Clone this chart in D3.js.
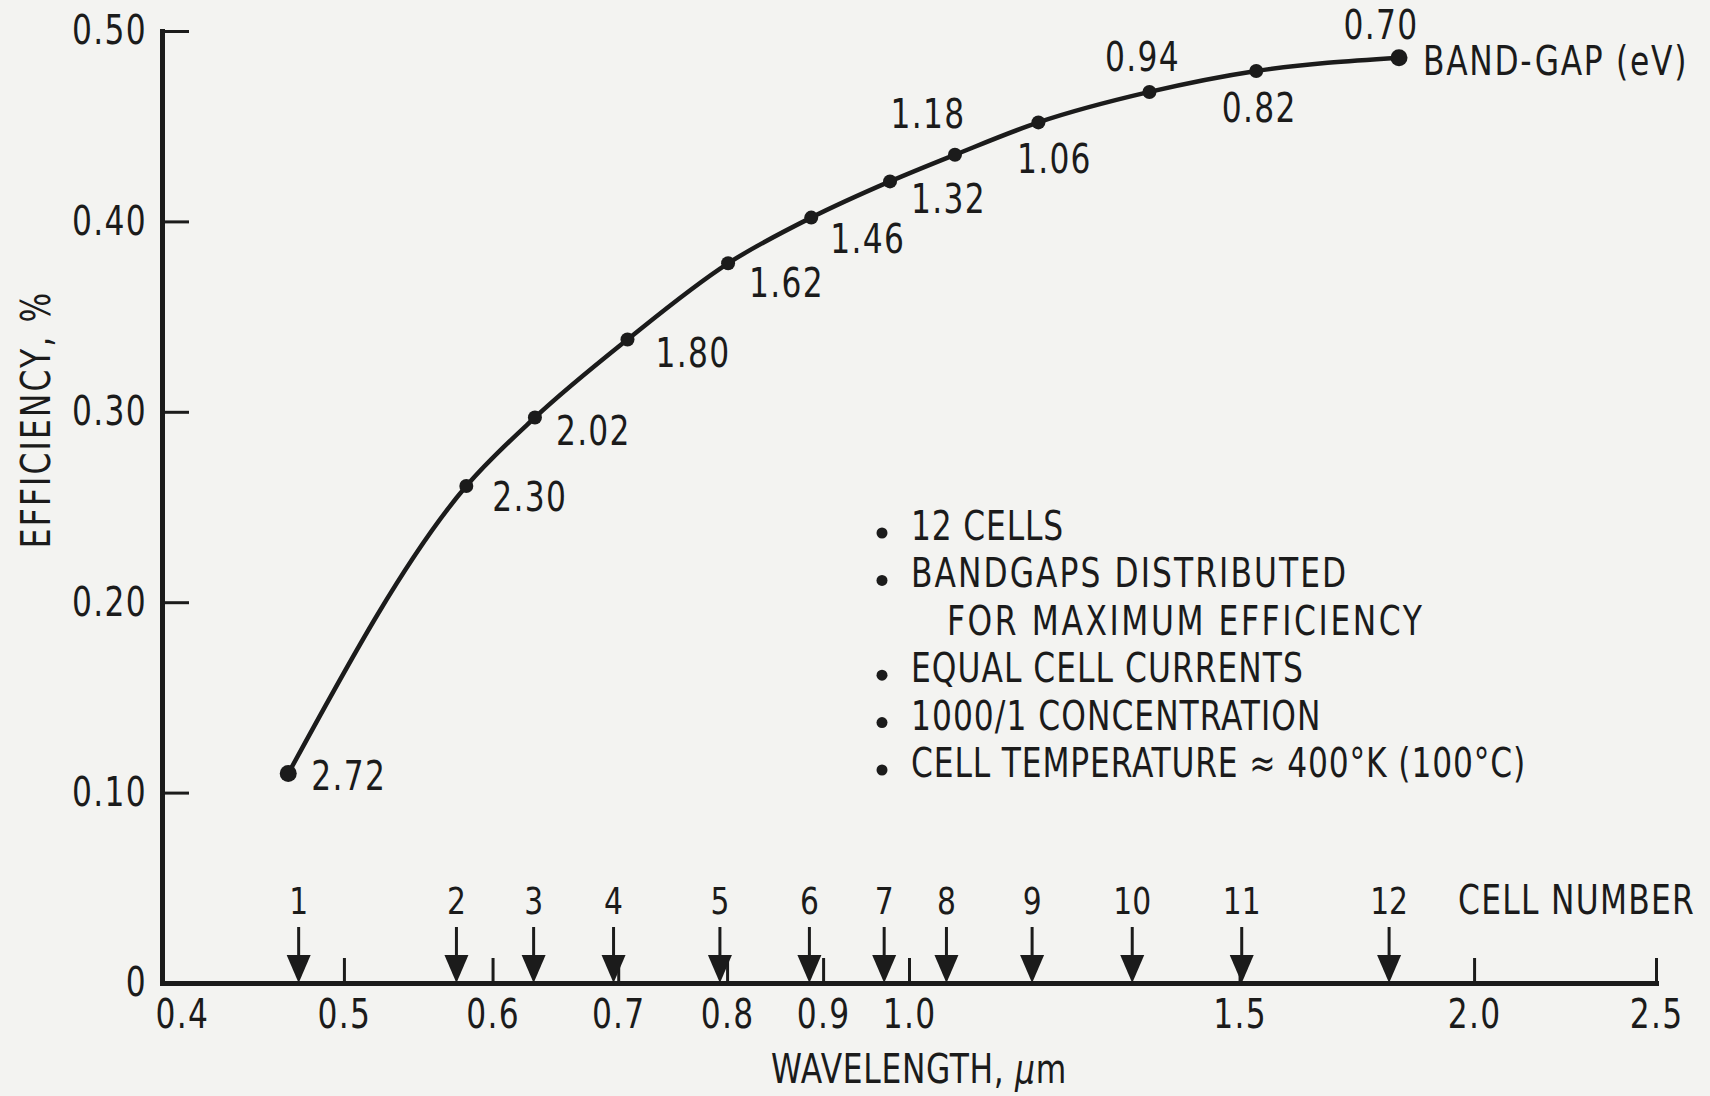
<!DOCTYPE html>
<html>
<head>
<meta charset="utf-8">
<script src="https://cdn.jsdelivr.net/npm/d3@7"></script>
<style>
  html, body { margin: 0; padding: 0; background: #f3f3f1; }
  svg { display: block; }
</style>
</head>
<body>
<svg id="chart" width="1710" height="1096"></svg>
<script>
// Band-gap of each cell (eV), printed next to its point on the curve
const bandGapLabels = ["2.72", "2.30", "2.02", "1.80", "1.62", "1.46", "1.32", "1.18", "1.06", "0.94", "0.82", "0.70"];
// Wavelength (µm) at which each curve point is plotted
const pointWavelength = [0.467, 0.581, 0.632, 0.708, 0.801, 0.887, 0.977, 1.058, 1.172, 1.343, 1.531, 1.824];
// Stack efficiency reached when that cell is added
const efficiency = [0.110, 0.261, 0.297, 0.338, 0.378, 0.402, 0.421, 0.435, 0.452, 0.468, 0.479, 0.486];

// Cell numbers and the cut-off wavelengths marked by arrows on the axis
const cellNumbers = [1, 2, 3, 4, 5, 6, 7, 8, 9, 10, 11, 12];
const cellWavelength = [0.473, 0.574, 0.631, 0.696, 0.793, 0.885, 0.970, 1.047, 1.163, 1.315, 1.504, 1.802];

// Axis ticks
const xTicks = [0.4, 0.5, 0.6, 0.7, 0.8, 0.9, 1.0, 1.5, 2.0, 2.5];
const yTicks = [0, 0.10, 0.20, 0.30, 0.40, 0.50];

// Conditions listed in the plot
const notes = [
  { bullet: true,  text: "12 CELLS" },
  { bullet: true,  text: "BANDGAPS DISTRIBUTED" },
  { bullet: false, text: "FOR MAXIMUM EFFICIENCY" },
  { bullet: true,  text: "EQUAL CELL CURRENTS" },
  { bullet: true,  text: "1000/1 CONCENTRATION" },
  { bullet: true,  text: "CELL TEMPERATURE \u2248 400\u00B0K (100\u00B0C)" }
];

// ---------------------------------------------------------------------------

// Pick the first narrow sans face that is actually installed
function pickFont(candidates) {
  const ctx = document.createElement("canvas").getContext("2d");
  const s = "MWmw0123456789ABCDEFGHIJKLMNOP";
  ctx.font = "40px monospace"; const m = ctx.measureText(s).width;
  ctx.font = "40px serif";     const r = ctx.measureText(s).width;
  for (const f of candidates) {
    ctx.font = `40px "${f}", monospace`; const a = ctx.measureText(s).width;
    ctx.font = `40px "${f}", serif`;     const b = ctx.measureText(s).width;
    if (a !== m || b !== r) return f;
  }
  return "Liberation Sans";
}
const FONT = `"${pickFont(["Liberation Sans Narrow", "DejaVu Sans Condensed", "Roboto Condensed"])}", "Liberation Sans", sans-serif`;
const INK = "#1b1b1b";
// Lettering is tall and narrow: glyphs are compressed horizontally by this factor
const SQUEEZE = 0.87;

const svg = d3.select("#chart")
  .style("font-family", FONT)
  .style("font-stretch", "condensed");

const x = d3.scaleLog().domain([0.4, 2.5]).range([162, 1656]);
const y = d3.scaleLinear().domain([0, 0.5]).range([983, 31]);

// X axis (log wavelength), ticks pointing into the plot
const gx = svg.append("g")
  .attr("transform", `translate(0,${y(0)})`)
  .call(d3.axisBottom(x)
    .tickValues(xTicks)
    .tickFormat(d3.format(".1f"))
    .tickSizeInner(-25)
    .tickSizeOuter(0)
    .tickPadding(17));

// Y axis (efficiency), ticks pointing into the plot
const gy = svg.append("g")
  .attr("transform", `translate(${x(0.4)},0)`)
  .call(d3.axisLeft(y)
    .tickValues(yTicks)
    .tickFormat(d => d === 0 ? "0" : d3.format(".2f")(d))
    .tickSizeInner(-27)
    .tickSizeOuter(0)
    .tickPadding(15));

[gx, gy].forEach(g => {
  g.attr("font-family", null).attr("font-size", null);
  g.select(".domain").attr("stroke", INK).attr("stroke-width", 5).attr("stroke-linecap", "square");
  g.selectAll(".tick line").attr("stroke", INK).attr("stroke-width", 3);
  g.selectAll(".tick text").attr("fill", INK).style("font-size", "40px").style("letter-spacing", "1.5px");
});
gy.selectAll(".tick").filter(d => d === 0).select("line").remove();
gx.selectAll(".tick").filter(d => d === 0.4).select("line").remove();
// first wavelength label sits just right of the corner
gx.selectAll(".tick text").filter(d => d === 0.4).attr("text-anchor", "start").attr("x", -7);

// Axis titles
svg.append("text")
  .attr("transform", `translate(50,${y(0.296)}) rotate(-90)`)
  .attr("text-anchor", "middle")
  .attr("fill", INK)
  .style("font-size", "40px")
  .style("letter-spacing", "2.5px")
  .text("EFFICIENCY, %");

const xt = svg.append("text")
  .attr("x", x(1.0) + 10)
  .attr("y", 1083)
  .attr("text-anchor", "middle")
  .attr("fill", INK)
  .style("font-size", "40px")
  .style("letter-spacing", "0.8px");
xt.append("tspan").text("WAVELENGTH, ");
xt.append("tspan").style("font-style", "italic").text("\u03BC");
xt.append("tspan").text("m");

// Cell cut-off arrows with their numbers
const y0 = y(0);
const arrows = svg.append("g").selectAll("g")
  .data(cellNumbers.map((n, i) => ({ n, w: cellWavelength[i] })))
  .join("g")
  .attr("transform", d => `translate(${x(d.w)},0)`);
arrows.append("line")
  .attr("y1", y0 - 56).attr("y2", y0 - 24)
  .attr("stroke", INK).attr("stroke-width", 3);
arrows.append("path")
  .attr("d", `M-12,${y0 - 28}L12,${y0 - 28}L0,${y0}Z`)
  .attr("fill", INK);
arrows.append("text")
  .attr("y", y0 - 69)
  .attr("text-anchor", "middle")
  .attr("fill", INK)
  .style("font-size", "38px")
  .text(d => d.n);

svg.append("text")
  .attr("x", 1458)
  .attr("y", y0 - 69)
  .attr("fill", INK)
  .style("font-size", "40px")
  .style("letter-spacing", "1.5px")
  .text("CELL NUMBER");

// Efficiency curve through the cell points
const pts = pointWavelength.map((w, i) => ({ w, e: efficiency[i], label: bandGapLabels[i] }));

svg.append("path")
  .datum(pts)
  .attr("fill", "none")
  .attr("stroke", INK)
  .attr("stroke-width", 4.5)
  .attr("stroke-linejoin", "round")
  .attr("d", d3.line().x(d => x(d.w)).y(d => y(d.e)).curve(d3.curveMonotoneX));

svg.append("g").selectAll("circle")
  .data(pts)
  .join("circle")
  .attr("cx", d => x(d.w))
  .attr("cy", d => y(d.e))
  .attr("r", (d, i) => (i === 0 || i === pts.length - 1) ? 8.5 : 7)
  .attr("fill", INK);

// Band-gap labels: right of the point on the steep part, alternating above/below on the flat part
const labelPlacement = [
  { a: "start", dx: 23, dy: 2 },  { a: "start", dx: 26, dy: 11 }, { a: "start", dx: 21, dy: 13 },
  { a: "start", dx: 28, dy: 13 }, { a: "start", dx: 21, dy: 19 }, { a: "start", dx: 19, dy: 21 },
  { a: "start", dx: 21, dy: 17 }, { a: "middle", dx: -27, dy: -41 }, { a: "middle", dx: 16, dy: 36 },
  { a: "middle", dx: -7, dy: -35 }, { a: "middle", dx: 3, dy: 37 }, { a: "middle", dx: -18, dy: -33 }
];
svg.append("g").selectAll("text")
  .data(pts)
  .join("text")
  .attr("x", (d, i) => x(d.w) + labelPlacement[i].dx)
  .attr("y", (d, i) => y(d.e) + labelPlacement[i].dy)
  .attr("dy", "0.36em")
  .attr("text-anchor", (d, i) => labelPlacement[i].a)
  .attr("fill", INK)
  .style("font-size", "40px")
  .style("letter-spacing", "1.5px")
  .text(d => d.label);

const last = pts[pts.length - 1];
svg.append("text")
  .attr("x", x(last.w) + 24)
  .attr("y", y(last.e) + 3)
  .attr("dy", "0.36em")
  .attr("fill", INK)
  .style("font-size", "40px")
  .style("letter-spacing", "2px")
  .text("BAND-GAP (eV)");

// Conditions block (lines with spaced-out lettering get extra tracking)
const notesG = svg.append("g").attr("transform", "translate(882,540)");
const lineStep = 47.4;
const tracking = [1, 2.4, 3, 1.2, 1.2, 1];
notes.forEach((n, i) => {
  if (n.bullet) {
    notesG.append("circle").attr("cx", 0).attr("cy", i * lineStep - 7).attr("r", 5.5).attr("fill", INK);
  }
  notesG.append("text")
    .attr("x", n.bullet ? 29 : 65)
    .attr("y", i * lineStep)
    .attr("fill", INK)
    .style("font-size", "40px")
    .style("letter-spacing", `${tracking[i]}px`)
    .text(n.text);
});

// Compress every label horizontally about its own anchor point
svg.selectAll("text").each(function () {
  const t = d3.select(this);
  const tx = +t.attr("x") || 0, ty = +t.attr("y") || 0;
  const prev = t.attr("transform") || "";
  t.attr("x", null).attr("y", null)
   .attr("transform", `${prev} translate(${tx},${ty}) scale(${SQUEEZE},1)`);
});
</script>
</body>
</html>
